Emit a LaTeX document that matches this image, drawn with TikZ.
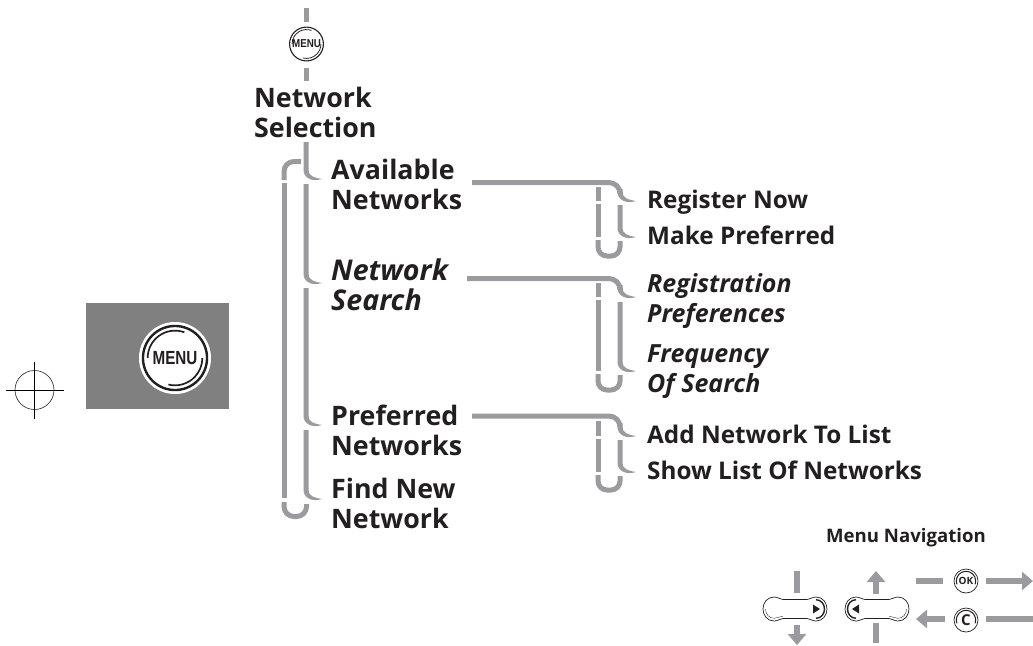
\documentclass[tikz,border=0pt]{standalone}
\usepackage{fontspec}
\setmainfont{Open Sans}
\newfontfamily\keyfont{Liberation Sans}
\usetikzlibrary{arrows.meta}
\definecolor{barg}{HTML}{9A9B9F}
\definecolor{ink}{HTML}{231F20}
\tikzset{
  x=1pt,y=-1pt,
  big/.style={anchor=west,inner sep=0pt,align=left,text=ink,font=\fontsize{26.8}{30}\selectfont\bfseries},
  bigit/.style={big,font=\fontsize{28.6}{30}\selectfont\bfseries\itshape},
  sub/.style={anchor=west,inner sep=0pt,align=left,text=ink,font=\fontsize{24.3}{30}\selectfont\bfseries},
  subit/.style={sub,font=\fontsize{25}{30}\selectfont\bfseries\itshape},
  subline/.style={sub,anchor=base west},
  bar/.style={draw=barg,line width=5pt},
  lead/.style={draw=barg,line width=5pt,rounded corners=11pt},
  thinbar/.style={draw=barg,line width=5pt},
  navarrow/.style={draw=barg,line width=6pt,-{Triangle[length=11pt,width=18pt]}},
  navbar/.style={draw=barg,line width=6pt},
  keynode/.style={circle,draw=ink,fill=white,line width=.7pt,inner sep=0pt,text=ink}
}
% tapered brace tip ending at a named coordinate; the stem rises #2 above it
\newcommand\bracetip[2]{%
  \begin{scope}[shift={(#1)}]
    \fill[barg] (-18.5,-#2) -- (-18.5,-9) .. controls (-18.5,-2) and (-11,3.5) .. (0,0)
      .. controls (-8,-1.2) and (-13.5,-3) .. (-13.5,-9) -- (-13.5,-#2) -- cycle;
  \end{scope}}
% menu key rings
\newcommand\menurings[3]{%
  \draw[ink,line width=#3] (#1) circle[radius=#2*0.89];
  \draw[ink,line width=#3*.7] (#1) ++(104:#2*0.76) arc[start angle=104,end angle=0,radius=#2*0.76];
  \draw[ink,line width=#3*.7] (#1) ++(180:#2*0.76) arc[start angle=180,end angle=290,radius=#2*0.76];}
\newcommand\capsule[1]{%
  \begin{scope}[shift={(#1)}]
    \draw[ink,line width=.7pt,fill=white] (-12,-9.5) -- (12,-9.5) .. controls (15,-9.5) and (17,-12) .. (21,-12)
      .. controls (28,-12) and (32,-6) .. (32,0) .. controls (32,6) and (28,12) .. (21,12)
      .. controls (17,12) and (15,9.5) .. (12,9.5) -- (-12,9.5) .. controls (-15,9.5) and (-17,12) .. (-21,12)
      .. controls (-28,12) and (-32,6) .. (-32,0) .. controls (-32,-6) and (-28,-12) .. (-21,-12)
      .. controls (-17,-12) and (-15,-9.5) .. (-12,-9.5) -- cycle;
    \draw[ink,line width=.35pt] (-12,7.5) .. controls (-16,7.5) and (-18,9.3) .. (-21,9.3) .. controls (-26,9.3) and (-29.5,5) .. (-29.5,0);
    \draw[ink,line width=1.4pt] (21,-9.3) .. controls (26,-9.3) and (29.5,-5) .. (29.5,0) .. controls (29.5,5) and (26,9.3) .. (21,9.3);
    \fill[ink] (25,0) -- (18,-4.5) -- (18,4.5) -- cycle;
  \end{scope}}
\begin{document}
\begin{tikzpicture}
\useasboundingbox (0,0) rectangle (1033,645);
\fill[white] (0,0) rectangle (1033,645);

% registration mark
\node[circle,draw=ink,line width=.6pt,minimum size=39pt,inner sep=0pt] (reg) at (34.5,390) {};
\coordinate (regL) at (6,390); \coordinate (regR) at (64,390);
\coordinate (regT) at (34.5,362); \coordinate (regB) at (34.5,419);
\draw[black,line width=.8pt] (regL) -- (regR);
\draw[black,line width=.8pt] (regT) -- (regB);

% grey panel with menu key
\fill[black!50] (86,303) rectangle (229,409);
\node[circle,fill=white,minimum size=72pt,inner sep=0pt] (bigmenu) at (175,358) {};
\menurings{bigmenu.center}{36}{2.4pt}
\node[inner sep=0pt,text=ink] at (bigmenu.center) {\keyfont\fontsize{19}{19}\selectfont\bfseries\scalebox{.8}[1]{MENU}};

% top of the menu
\coordinate (topend) at (306.5,8);
\coordinate (topa) at (306.5,22); \coordinate (topb) at (306.5,68); \coordinate (topc) at (306.5,81);
\node[circle,fill=white,minimum size=38pt,inner sep=0pt] (menu) at (306.5,44) {};
\menurings{menu.center}{19}{1.1pt}
\node[inner sep=0pt,text=ink] at (menu.center) {\keyfont\fontsize{11.5}{11.5}\selectfont\bfseries\scalebox{.85}[1]{MENU}};
\node[big] (sel) at (254,112) {Network\\Selection};
\draw[bar] (topend) -- (topa);
\draw[bar] (topb) -- (topc);

% first level
\node[big] (avail) at (331,184) {Available\\Networks};
\node[bigit] (search) at (331,285) {Network\\Search};
\node[big] (pref) at (331,430) {Preferred\\Networks};
\node[big] (find) at (331,503.5) {Find New\\Network};

\coordinate (t1) at (322,179); \coordinate (t2) at (322,283);
\coordinate (t3) at (322,425); \coordinate (t4) at (322,499);
\bracetip{t1}{37}
\bracetip{t2}{99}
\bracetip{t3}{137}
\bracetip{t4}{69}
\draw[thinbar,rounded corners=10pt] (284,180) -- (284,161.5) -- (301,161.5);
\draw[thinbar] (284,183) -- (284,498);
\draw[thinbar,rounded corners=10pt] (284,502) -- (284,516.5) -- (306.5,516.5) -- (306.5,504);

% second level
\node[subline] (reg1) at (647,208) {Register Now};
\node[subline] (make) at (647,244) {Make Preferred};
\node[subit] (rp) at (647,301.5) {Registration\\Preferences};
\node[subit] (fs) at (647,372) {Frequency\\Of Search};
\node[subline] (add) at (647,443) {Add Network To List};
\node[subline] (show) at (647,479) {Show List Of Networks};

\coordinate (a1) at (636,201); \coordinate (a2) at (636,237);
\coordinate (b1) at (636,297); \coordinate (b2) at (636,371);
\coordinate (c1) at (636,436); \coordinate (c2) at (636,472);
\coordinate (la) at (472,182.5); \coordinate (lb) at (467,278.5); \coordinate (lc) at (472,416);

% Available Networks
\draw[lead] (la) -- (620,182.5) -- (620,191);
\bracetip{a1}{12}
\bracetip{a2}{32}
\draw[thinbar] (598,187) -- (598,201);
\draw[thinbar] (598,204) -- (598,237);
\draw[thinbar,rounded corners=9pt] (598,240) -- (598,256) -- (620,256) -- (620,241);
% Network Search
\draw[lead] (lb) -- (620,278.5) -- (620,287);
\bracetip{b1}{12}
\bracetip{b2}{69}
\draw[thinbar] (598,283) -- (598,297);
\draw[thinbar] (598,300) -- (598,371);
\draw[thinbar,rounded corners=9pt] (598,374) -- (598,390) -- (620,390) -- (620,375);
% Preferred Networks
\draw[lead] (lc) -- (620,416) -- (620,425);
\bracetip{c1}{13}
\bracetip{c2}{32}
\draw[thinbar] (598,421) -- (598,436);
\draw[thinbar] (598,439) -- (598,472);
\draw[thinbar,rounded corners=9pt] (598,475) -- (598,490) -- (620,490) -- (620,476);

% menu navigation
\node[inner sep=0pt,text=ink,font=\fontsize{18.6}{20}\selectfont\bfseries] (nav) at (906,538) {Menu Navigation};
\capsule{795,609}
\begin{scope}[xscale=-1,shift={(-877,0)}]
  \capsule{0,609}
\end{scope}
\node[keynode,minimum size=24pt,font=\fontsize{10}{10}\selectfont\bfseries] (ok) at (966,581) {OK};
\node[keynode,minimum size=24pt,font=\fontsize{15}{15}\selectfont\bfseries] (c) at (966,620) {C};
\draw[ink,line width=1pt] (ok.center) ++(20:9.7) arc[start angle=20,end angle=-200,radius=9.7];
\draw[ink,line width=1pt] (c.center) ++(20:9.7) arc[start angle=20,end angle=-200,radius=9.7];
\coordinate (n1) at (797,571); \coordinate (n2) at (797,593);
\coordinate (n3) at (797,625); \coordinate (n4) at (797,645);
\coordinate (u1) at (876,594); \coordinate (u2) at (876,571);
\coordinate (u3) at (876,623); \coordinate (u4) at (876,643);
\coordinate (o1) at (916,581); \coordinate (o2) at (943,581);
\coordinate (o3) at (986,581); \coordinate (o4) at (1033,581);
\coordinate (c1r) at (945,619); \coordinate (c2r) at (916,619);
\coordinate (c3r) at (986,619); \coordinate (c4r) at (1033,619);
\draw[navbar] (n1) -- (n2);
\draw[navarrow] (n3) -- (n4);
\draw[navarrow] (u1) -- (u2);
\draw[navbar] (u3) -- (u4);
\draw[navbar] (o1) -- (o2);
\draw[navarrow] (o3) -- (o4);
\draw[navarrow] (c1r) -- (c2r);
\draw[navbar] (c3r) -- (c4r);
\end{tikzpicture}
\end{document}
